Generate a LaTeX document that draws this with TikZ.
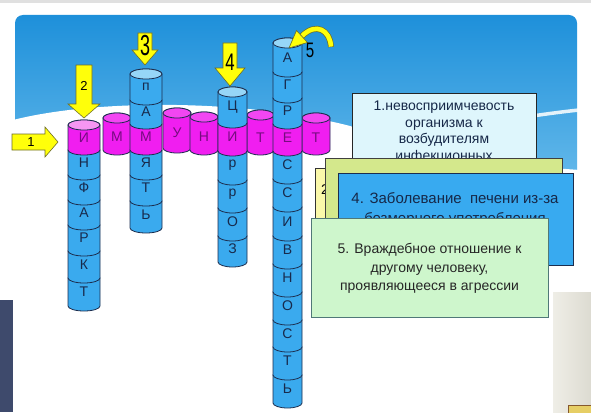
\documentclass[tikz,border=0pt]{standalone}
\usepackage{fontspec}
\setmainfont{Liberation Sans}
\usepackage{graphicx}
\definecolor{skytop}{RGB}{30,144,218}
\definecolor{skybot}{RGB}{150,214,246}
\definecolor{cb}{RGB}{58,170,238}
\definecolor{cbt}{RGB}{150,214,247}
\definecolor{cm}{RGB}{240,30,240}
\definecolor{cmr}{RGB}{242,70,242}
\definecolor{cmt}{RGB}{246,150,242}
\definecolor{cedge}{RGB}{28,45,78}
\definecolor{ltrb}{RGB}{24,42,76}
\definecolor{ltrm}{RGB}{118,12,128}
\definecolor{arry}{RGB}{255,255,10}
\definecolor{arre}{RGB}{110,110,40}
\definecolor{bxone}{RGB}{222,246,252}
\definecolor{bxtwo}{RGB}{250,248,170}
\definecolor{bxthree}{RGB}{212,232,140}
\definecolor{bxfour}{RGB}{56,170,240}
\definecolor{bxfive}{RGB}{206,246,204}
\definecolor{bxfiveedge}{RGB}{80,120,120}
\definecolor{navyside}{RGB}{62,74,108}
\definecolor{beige}{RGB}{232,230,220}
\definecolor{txtnavy}{RGB}{22,40,72}
\newcommand{\cylpiece}[5]{%
  \pgfmathsetmacro{\cylrx}{(#2-#1)/2}%
  \filldraw[cyl edge, fill=#5] (#1,#3) -- (#1,#4) arc[start angle=180, end angle=360, x radius={\cylrx pt}, y radius=5pt] -- (#2,#3) arc[start angle=0, end angle=180, x radius={\cylrx pt}, y radius=5pt] -- cycle;%
}
\newcommand{\cyltop}[4]{%
  \pgfmathsetmacro{\cylrx}{(#2-#1)/2}%
  \pgfmathsetmacro{\cylcx}{(#1+#2)/2}%
  \filldraw[cyl edge, fill=#4] (\cylcx,#3) ellipse [x radius={\cylrx pt}, y radius=5pt];%
}
\begin{document}
\begin{tikzpicture}[x=1pt, y=-1pt,
  cyl edge/.style={draw=cedge, line width=0.8pt},
  letter/.style={font=\fontsize{14}{15}\selectfont, inner sep=0pt},
  yarrow/.style={fill=arry, draw=arre, line width=0.6pt},
  numsmall/.style={font=\fontsize{13}{14}\selectfont, inner sep=0pt},
  numbig/.style={inner sep=0pt},
  boxshape/.style={draw, line width=0.8pt, anchor=north west, inner sep=0pt},
  boxtext/.style={align=center, inner sep=0pt}
]
\useasboundingbox (0,0) rectangle (591,412);
% background
\fill[white] (0,0) rectangle (591,412);
\fill[black!12] (0,0) rectangle (591,3);
\shade[top color=skytop, bottom color=skybot, rounded corners=8pt] (15,15) rectangle (577,300);
\fill[white] (13,120) .. controls (100,98) and (250,100) .. (350,126) .. controls (450,158) and (520,166) .. (580,170) -- (580,305) -- (13,305) -- cycle;
\draw[white, line width=3.5pt, opacity=0.85] (500,121) .. controls (530,116) and (560,112) .. (579,110);

% row cylinders (magenta)
\cylpiece{103}{131}{118}{150}{cm}\cyltop{103}{131}{118}{cmr}
\node[letter, text=ltrm] (rM) at (117,137) {М};
\cylpiece{163}{191}{113}{148}{cm}\cyltop{163}{191}{113}{cmr}
\node[letter, text=ltrm] (rU) at (177,133) {У};
\cylpiece{190}{218}{117}{150}{cm}\cyltop{190}{218}{117}{cmr}
\node[letter, text=ltrm] (rN) at (204,137) {Н};
\cylpiece{247}{274}{115}{150}{cm}\cyltop{247}{274}{115}{cmr}
\node[letter, text=ltrm] (rT) at (260.5,138) {Т};
\cylpiece{302}{330}{118}{150}{cm}\cyltop{302}{330}{118}{cmr}
\node[letter, text=ltrm] (rTT) at (316,138) {Т};

% column 1: ИНФАРКТ
\foreach \t/\b/\c/\l/\n/\k in {278/306/cb/Т/a7/ltrb, 251/278/cb/К/a6/ltrb, 225/251/cb/Р/a5/ltrb, 200/225/cb/А/a4/ltrb, 175/200/cb/Ф/a3/ltrb, 150/175/cb/Н/a2/ltrb, 125/150/cm/И/a1/ltrm}{
  \cylpiece{68}{100}{\t}{\b}{\c}
  \node[letter, text=\k] (\n) at (84,{(\t+\b)/2}) {\l};
}
\cyltop{68}{100}{125}{cmt}

% column 2: ПАМЯТЬ
\foreach \t/\b/\c/\l/\n/\k in {201/228/cb/Ь/b6/ltrb, 175/201/cb/Т/b5/ltrb, 150/175/cb/Я/b4/ltrb, 124/150/cm/М/b3/ltrm, 100/124/cb/А/b2/ltrb, 74/100/cb/п/b1/ltrb}{
  \cylpiece{130}{162}{\t}{\b}{\c}
  \node[letter, text=\k] (\n) at (146,{(\t+\b)/2}) {\l};
}
\cyltop{130}{162}{74}{cbt}

% column 4: ЦИРРОЗ
\foreach \t/\b/\c/\l/\n/\k in {236/262/cb/З/d6/ltrb, 208/236/cb/О/d5/ltrb, 180/208/cb/р/d4/ltrb, 151/180/cb/р/d3/ltrb, 123/151/cm/И/d2/ltrm, 92/123/cb/Ц/d1/ltrb}{
  \cylpiece{218}{247}{\t}{\b}{\c}
  \node[letter, text=\k] (\n) at (232.5,{(\t+\b)/2}) {\l};
}
\cyltop{218}{247}{92}{cbt}

% column 5: АГРЕССИВНОСТЬ
\foreach \t/\b/\c/\l/\n/\k in {375/403/cb/Ь/e13/ltrb, 347/375/cb/Т/e12/ltrb, 320/347/cb/С/e11/ltrb, 292/320/cb/О/e10/ltrb, 264/292/cb/Н/e9/ltrb, 236/264/cb/В/e8/ltrb, 207/236/cb/И/e7/ltrb, 179/207/cb/С/e6/ltrb, 151/179/cb/С/e5/ltrb, 124/151/cm/Е/e4/ltrm, 98/124/cb/Р/e3/ltrb, 72/98/cb/Г/e2/ltrb, 43/72/cb/А/e1/ltrb}{
  \cylpiece{273}{302}{\t}{\b}{\c}
  \node[letter, text=\k] (\n) at (287.5,{(\t+\b)/2}) {\l};
}
\cyltop{273}{302}{43}{cbt}

% yellow arrows
\filldraw[yarrow] (12,134) -- (45,134) -- (45,127) -- (58,142) -- (45,157) -- (45,150) -- (12,150) -- cycle;
\node[numsmall] (n1) at (31,142) {1};
\filldraw[yarrow] (76,65) -- (92,65) -- (92,104) -- (100,104) -- (84,118) -- (68,104) -- (76,104) -- cycle;
\node[numsmall] (n2) at (84,86) {2};
\filldraw[yarrow] (138,33) -- (152,33) -- (152,50) -- (158,50) -- (145,65) -- (132,50) -- (138,50) -- cycle;
\node[numbig] (n3) at (145,46) {\scalebox{0.62}[1]{\fontsize{29}{30}\selectfont 3}};
\filldraw[yarrow] (223,43) -- (237,43) -- (237,68) -- (245,68) -- (230,86) -- (215,68) -- (223,68) -- cycle;
\node[numbig] (n4) at (230,62) {\scalebox{0.7}[1]{\fontsize{24}{25}\selectfont 4}};
% curved arrow 5
\draw[arre, line width=6pt] (331,47) .. controls (330,30) and (316,22) .. (302,36);
\draw[arry, line width=4.6pt] (331,46.6) .. controls (330,30) and (316,22) .. (302,36);
\filldraw[yarrow] (307.5,42.5) -- (289,48) -- (296.5,30.5) -- cycle;
\node[numbig] (n5) at (310,50) {\scalebox{0.72}[1]{\fontsize{21}{22}\selectfont 5}};

% text boxes
\node[boxshape, draw=black!85, fill=bxone, minimum width=184pt, minimum height=82pt] (box1) at (352,93) {};
\node[boxtext, text=txtnavy, font=\fontsize{14}{16.7}\selectfont] (t1) at (444,132) {1.невосприимчевость\\организма к\\возбудителям\\инфекционных};
\node[boxshape, draw=black!80, fill=bxtwo, minimum width=225pt, minimum height=62pt] (box2) at (315,168) {};
\node[inner sep=0pt, anchor=west, font=\fontsize{14}{16}\selectfont] (t2) at (321,190) {2.};
\node[boxshape, draw=black!75, fill=bxthree, minimum width=237pt, minimum height=72pt] (box3) at (325,158) {};
\node[boxshape, draw=cedge, fill=bxfour, minimum width=235pt, minimum height=92pt] (box4) at (338,173) {};
\node[boxtext, text=txtnavy, font=\fontsize{15}{20}\selectfont] (t4) at (455,210) {4. Заболевание \ печени из-за\\безмерного употребления};
\node[boxshape, draw=bxfiveedge, fill=bxfive, minimum width=237pt, minimum height=99pt] (box5) at (311,218) {};
\node[boxtext, text=black!85, font=\fontsize{14}{18.5}\selectfont] (t5) at (429.5,268.5) {5. Враждебное отношение к\\другому человеку,\\проявляющееся в агрессии};

% outside elements
\fill[navyside] (0,300) rectangle (13,412);
\shade[left color=beige!70!white, right color=beige!95!black] (553,292) rectangle (591,412);
\filldraw[fill=brown!55!yellow!70, draw=brown!70!black, line width=0.8pt] (568,405) rectangle (595,416);
\end{tikzpicture}
\end{document}
